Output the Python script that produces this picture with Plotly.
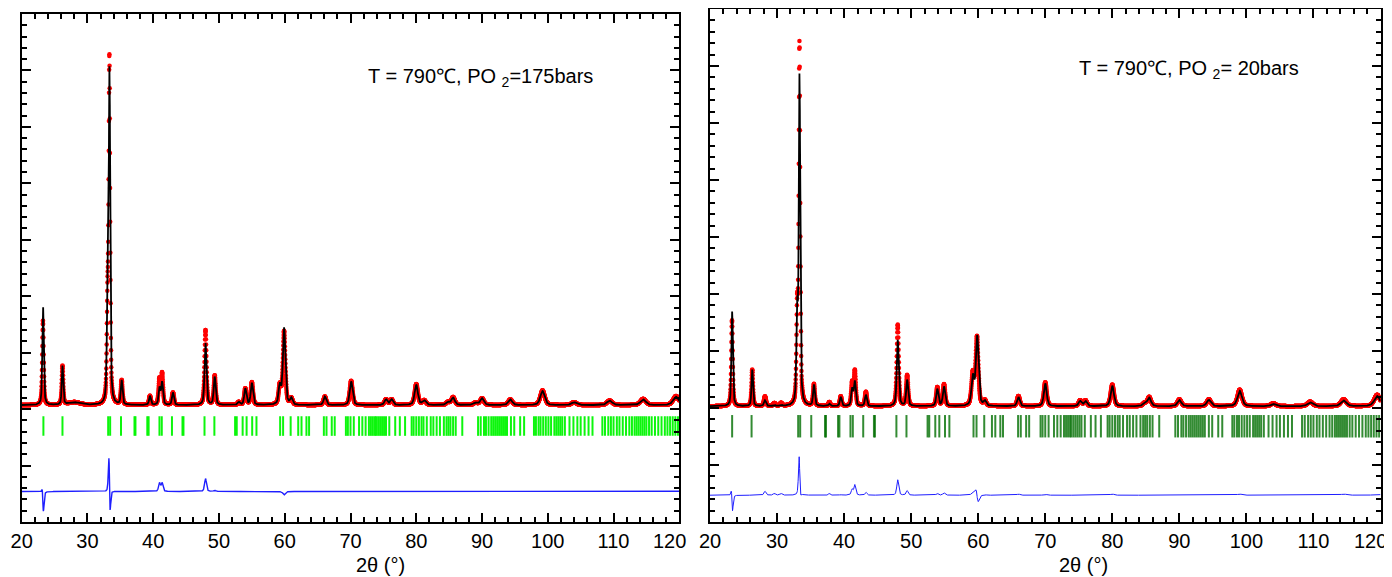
import numpy as np
import plotly.graph_objects as go

# ---------------- data ----------------
# 2-theta scan (degrees)
scan_start, scan_end, scan_step = 20.0, 120.0, 0.02

# Left panel : T = 790 C, PO2 = 175 bars   (intensity in arbitrary plot units)
L_background = 2.07
L_pos   = [23.25, 26.20, 28.0, 33.05, 33.35, 35.20, 39.50, 40.95, 41.35, 43.00, 47.95, 49.35,
           53.0, 54.00, 55.00, 59.25, 59.90, 61.00, 66.10, 70.10, 75.40, 76.25, 80.00, 81.2,
           84.8, 85.60, 89.0, 90.00, 94.30, 99.20, 104.0, 109.4, 114.5, 119.5]
L_calc  = [1.74, 0.69, 0.05, 1.60, 5.87, 0.43, 0.16, 0.30, 0.40, 0.22, 1.10, 0.50,
           0.05, 0.29, 0.39, 0.33, 1.36, 0.11, 0.15, 0.42, 0.10, 0.10, 0.36, 0.08,
           0.05, 0.13, 0.04, 0.12, 0.10, 0.25, 0.05, 0.08, 0.10, 0.15]
L_obs   = [1.50, 0.69, 0.05, 1.60, 6.06, 0.43, 0.16, 0.45, 0.55, 0.22, 1.33, 0.52,
           0.05, 0.29, 0.40, 0.33, 1.30, 0.11, 0.15, 0.43, 0.10, 0.10, 0.37, 0.08,
           0.05, 0.14, 0.04, 0.12, 0.10, 0.26, 0.05, 0.08, 0.11, 0.16]
L_fwhm  = [0.26, 0.26, 2.0, 0.26, 0.26, 0.30, 0.32, 0.32, 0.32, 0.34, 0.34, 0.34,
           0.40, 0.38, 0.40, 0.42, 0.44, 0.42, 0.47, 0.50, 0.52, 0.52, 0.57, 0.62,
           0.62, 0.62, 0.70, 0.67, 0.72, 0.78, 0.88, 0.92, 0.97, 1.02]
L_shift = [-0.02, 0.0, 0.0, 0.0, -0.015, 0.0, 0.0, 0.0, 0.0, 0.0, 0.0, 0.0,
           0.0, 0.0, 0.0, 0.0, 0.0, 0.0, 0.0, 0.0, 0.0, 0.0, 0.0, 0.0,
           0.0, 0.0, 0.0, 0.0, 0.0, 0.0, 0.0, 0.0, 0.0, 0.0]

# Right panel : T = 790 C, PO2 = 20 bars
R_background = 2.03
R_pos   = [23.30, 26.30, 28.20, 29.6, 30.6, 33.00, 33.35, 35.50, 37.80, 39.50, 41.20, 41.60,
           43.25, 48.00, 49.40, 53.90, 54.90, 59.20, 59.85, 61.00, 66.00, 70.00, 75.20,
           76.00, 80.00, 84.80, 85.50, 90.00, 94.40, 99.00, 104.0, 109.5, 114.5, 119.5]
R_calc  = [1.66, 0.64, 0.10, 0.02, 0.02, 1.55, 5.76, 0.37, 0.04, 0.16, 0.30, 0.43,
           0.20, 1.16, 0.46, 0.30, 0.34, 0.50, 1.22, 0.08, 0.16, 0.40, 0.09,
           0.09, 0.36, 0.05, 0.15, 0.11, 0.11, 0.27, 0.04, 0.07, 0.10, 0.18]
R_obs   = [1.51, 0.64, 0.17, 0.05, 0.05, 1.55, 6.30, 0.38, 0.07, 0.17, 0.40, 0.61,
           0.25, 1.43, 0.54, 0.33, 0.38, 0.55, 1.20, 0.09, 0.18, 0.42, 0.10,
           0.10, 0.38, 0.05, 0.16, 0.12, 0.12, 0.29, 0.05, 0.08, 0.12, 0.20]
R_fwhm  = [0.26, 0.26, 0.35, 0.40, 0.40, 0.26, 0.26, 0.30, 0.32, 0.32, 0.32, 0.32,
           0.34, 0.34, 0.34, 0.38, 0.40, 0.47, 0.47, 0.42, 0.47, 0.50, 0.52,
           0.52, 0.57, 0.62, 0.62, 0.67, 0.72, 0.78, 0.88, 0.92, 0.97, 1.02]
R_shift = [-0.02, 0.0, 0.0, 0.0, 0.0, 0.0, -0.008, 0.0, 0.0, 0.0, 0.0, 0.0,
           0.0, 0.0, 0.0, 0.0, 0.0, 0.0, -0.03, 0.0, 0.0, 0.0, 0.0,
           0.0, 0.0, 0.0, 0.0, 0.0, 0.0, 0.0, 0.0, 0.0, 0.0, 0.0]

# Bragg reflection positions (same phase in both panels)
bragg_pos = [23.3, 26.2, 33.15, 33.45, 35.1, 37.15, 37.3, 39.1, 39.3, 40.95, 41.3, 42.85,
             44.45, 44.6, 47.8, 49.3, 52.45, 52.7, 53.6, 54.2, 55.05, 55.7, 59.3, 59.75,
             60.9, 62.05, 62.55, 63.3, 63.7, 65.95, 66.35, 67.15, 67.6, 69.3, 69.6, 70.0,
             70.5, 71.3, 71.8, 72.3, 72.8, 73.1, 73.4, 73.7, 73.9, 74.2, 74.5, 74.8, 75.1,
             75.4, 75.9, 76.8, 77.5, 78.3, 79.3, 79.6, 80.0, 80.4, 80.8, 81.1, 81.6, 82.2,
             82.6, 83.1, 83.6, 84.2, 84.6, 84.9, 85.2, 85.6, 86.0, 87.0, 89.4, 89.8, 90.3,
             90.6, 91.0, 91.4, 91.7, 92.0, 92.3, 92.6, 92.9, 93.2, 93.5, 93.8, 94.4, 94.9,
             95.8, 96.4, 97.9, 98.2, 98.6, 98.9, 99.3, 99.7, 100.1, 100.5, 101.0, 101.3,
             101.6, 101.9, 102.2, 102.6, 103.3, 103.9, 104.5, 105.0, 105.6, 106.2, 106.8,
             108.3, 108.7, 109.2, 109.6, 110.0, 110.5, 110.9, 111.4, 111.9, 112.4, 112.8,
             113.2, 113.5, 113.8, 114.1, 114.4, 114.7, 115.0, 115.4, 115.8, 116.3, 116.8,
             117.3, 117.8, 118.2, 118.6, 119.0, 119.4, 119.8]

x_ticks = [20, 30, 40, 50, 60, 70, 80, 90, 100, 110, 120]
labels = ["T = 790\u2103, PO <sub>2</sub>=175bars", "T = 790\u2103, PO <sub>2</sub>= 20bars"]
x_title = "2\u03b8 (\u00b0)"

# ---------------- build profiles ----------------
tt = np.arange(scan_start, scan_end + scan_step / 2, scan_step)


def profile(x, bg, pos, h, w, shift=None, eta=0.5):
    y = np.full_like(x, bg, dtype=float)
    if shift is None:
        shift = [0.0] * len(pos)
    for p, hh, ww, s in zip(pos, h, w, shift):
        u = (x - (p + s)) / ww
        g = np.exp(-4 * np.log(2) * u ** 2)
        lo = 1.0 / (1.0 + 4 * u ** 2)
        y += hh * (eta * lo + (1 - eta) * g)
    return y


L_y_calc = profile(tt, L_background, L_pos, L_calc, L_fwhm)
L_y_obs = profile(tt, L_background, L_pos, L_obs, L_fwhm, L_shift)
R_y_calc = profile(tt, R_background, R_pos, R_calc, R_fwhm)
R_y_obs = profile(tt, R_background, R_pos, R_obs, R_fwhm, R_shift)

L_diff = L_y_obs - L_y_calc + 0.54
R_diff = R_y_obs - R_y_calc + 0.47

# ---------------- figure ----------------
# page body has an 8 px margin: the figure starts at (8, 8) of the window
OFF = 8
W, H = 1392 - OFF, 577 - OFF


def px(x):
    return (x - OFF) / W


def py(y):
    return (H - (y - OFF)) / H


fig = go.Figure()

panels = [
    dict(xa="x", ya="y", obs=L_y_obs, calc=L_y_calc, diff=L_diff, tick_y=1.70,
         tick_color="rgba(0,245,0,0.95)", diff_w=1.4, tick_size=14),
    dict(xa="x2", ya="y2", obs=R_y_obs, calc=R_y_calc, diff=R_diff, tick_y=1.68,
         tick_color="rgba(0,110,0,0.8)", diff_w=1.0, tick_size=16),
]

for p in panels:
    fig.add_trace(go.Scatter(x=tt, y=p["obs"], mode="markers", xaxis=p["xa"], yaxis=p["ya"],
                             marker=dict(color="rgb(255,0,0)", size=4.5, line=dict(width=0)),
                             showlegend=False, hoverinfo="skip"))
    fig.add_trace(go.Scatter(x=tt, y=p["calc"], mode="lines", xaxis=p["xa"], yaxis=p["ya"],
                             line=dict(color="black", width=1.8), showlegend=False,
                             hoverinfo="skip"))
    fig.add_trace(go.Scatter(x=bragg_pos, y=[p["tick_y"]] * len(bragg_pos), mode="markers",
                             xaxis=p["xa"], yaxis=p["ya"],
                             marker=dict(symbol="line-ns", size=p["tick_size"],
                                         line=dict(color=p["tick_color"], width=2)),
                             showlegend=False, hoverinfo="skip"))
    fig.add_trace(go.Scatter(x=tt, y=p["diff"], mode="lines", xaxis=p["xa"], yaxis=p["ya"],
                             line=dict(color="rgb(30,30,255)", width=p["diff_w"]),
                             showlegend=False, hoverinfo="skip"))

tick_font = dict(family="Liberation Sans, Arial", size=20, color="black")
xcommon = dict(range=[20, 120], tickmode="array", tickvals=x_ticks,
               ticks="inside", ticklen=9, tickwidth=2,
               tickcolor="black", showline=True, linewidth=2, linecolor="black",
               mirror="ticks", showgrid=False, zeroline=False, automargin=False,
               tickfont=tick_font,
               minor=dict(dtick=2, tick0=20, ticks="inside", ticklen=5, tickwidth=1.5,
                          tickcolor="black", showgrid=False))
ycommon = dict(range=[0, 9], tick0=0, dtick=1, ticks="inside", ticklen=9, tickwidth=2,
               tickcolor="black", showline=True, linewidth=2, linecolor="black",
               mirror="ticks", showgrid=False, zeroline=False, showticklabels=False,
               automargin=False,
               minor=dict(dtick=0.2, tick0=0, ticks="inside", ticklen=5, tickwidth=1.5,
                          tickcolor="black", showgrid=False))

# last label of each panel is placed as annotation (slightly inset, as in the reference)
ticktext_main = [str(v) for v in x_ticks[:-1]] + [""]

fig.update_layout(
    width=W, height=H,
    margin=dict(l=0, r=0, t=0, b=0),
    paper_bgcolor="white", plot_bgcolor="white",
    xaxis=dict(domain=[px(21.7), px(679.3)], anchor="y", ticktext=ticktext_main, **xcommon),
    yaxis=dict(domain=[py(522), py(14)], anchor="x", **ycommon),
    xaxis2=dict(domain=[px(710), px(1380.5)], anchor="y2", ticktext=ticktext_main, **xcommon),
    yaxis2=dict(domain=[py(522), py(9)], anchor="x2", **ycommon),
    font=dict(family="Liberation Sans, Arial", color="black"),
    annotations=[
        dict(text=labels[0], xref="paper", yref="paper", x=px(366), y=py(77),
             xanchor="left", yanchor="middle", showarrow=False,
             font=dict(family="Liberation Sans, Arial", size=20, color="black")),
        dict(text=labels[1], xref="paper", yref="paper", x=px(1077), y=py(70),
             xanchor="left", yanchor="middle", showarrow=False,
             font=dict(family="Liberation Sans, Arial", size=20, color="black")),
        dict(text=str(x_ticks[-1]), xref="paper", yref="paper", x=px(688), y=py(541),
             xanchor="right", yanchor="middle", showarrow=False, font=tick_font),
        dict(text=str(x_ticks[-1]), xref="paper", yref="paper", x=px(1389), y=py(541),
             xanchor="right", yanchor="middle", showarrow=False, font=tick_font),
        dict(text=x_title, xref="paper", yref="paper", x=px(380), y=py(565),
             xanchor="center", yanchor="middle", showarrow=False,
             font=dict(family="Liberation Sans, Arial", size=20, color="black")),
        dict(text=x_title, xref="paper", yref="paper", x=px(1083), y=py(565),
             xanchor="center", yanchor="middle", showarrow=False,
             font=dict(family="Liberation Sans, Arial", size=20, color="black")),
    ],
)

fig.write_html("out.html")
